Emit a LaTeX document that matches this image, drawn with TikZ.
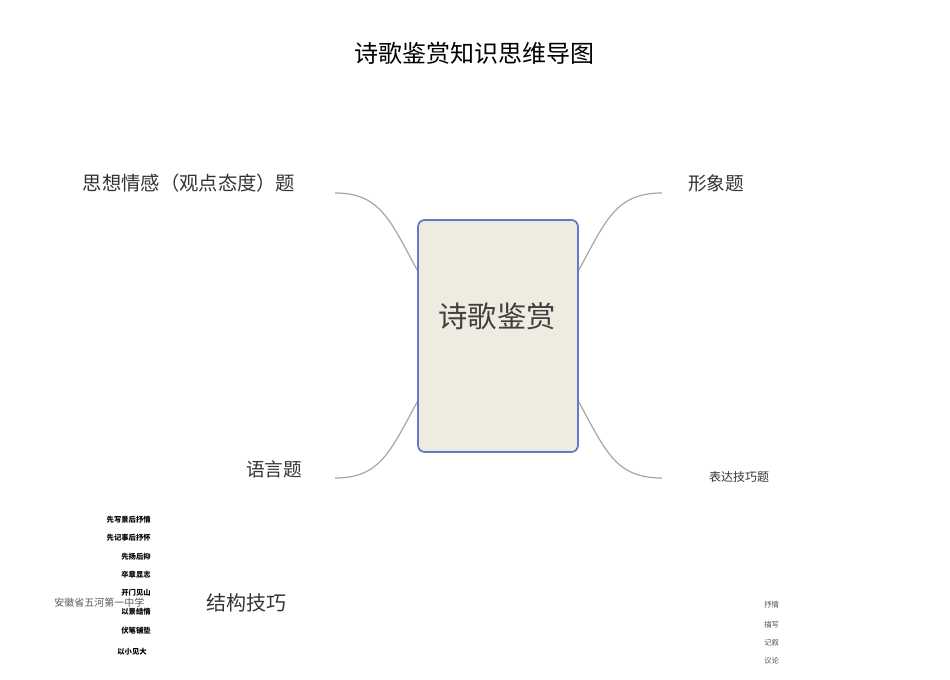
\documentclass[tikz,border=0pt]{standalone}
\usepackage{fontspec}
\newfontfamily\cjk{Noto Sans CJK SC}
\begin{document}
\begin{tikzpicture}[x=0.75pt,y=-0.75pt,font=\cjk,
  curve/.style={draw=gray!70,line width=0.9pt},
  sm/.style={font=\cjk\bfseries\fontsize{5.5}{6}\selectfont,anchor=east,inner sep=0},
  smr/.style={font=\cjk\fontsize{5.5}{6}\selectfont,text=black!70,anchor=west,inner sep=0}]
\useasboundingbox (0,0) rectangle (950,680);
\node (title) at (474,53) {\fontsize{18}{20}\selectfont 诗歌鉴赏知识思维导图};
\node[draw={rgb,255:red,100;green,120;blue,205},line width=1.3pt,fill={rgb,255:red,238;green,235;blue,225},
  rounded corners=5pt,minimum width=120pt,minimum height=174pt] (c) at (498,336) {};
\node (ct) at (497,316) {\fontsize{22}{24}\selectfont\color{black!75}诗歌鉴赏};
\coordinate (tl) at (335,193); \coordinate (tr) at (662,193);
\coordinate (bl) at (335,478); \coordinate (br) at (662,478);
\draw[curve] (c.west|-0,270) .. controls (390,220) and (380,193) .. (tl);
\draw[curve] (c.east|-0,270) .. controls (606,220) and (616,193) .. (tr);
\draw[curve] (c.west|-0,402) .. controls (390,452) and (380,478) .. (bl);
\draw[curve] (c.east|-0,402) .. controls (606,452) and (616,478) .. (br);
\node (a) at (189,183) {\fontsize{14.5}{16}\selectfont\color{black!80}思想情感（观点态度）题};
\node (b) at (716,183) {\fontsize{14}{16}\selectfont\color{black!80}形象题};
\node (d) at (274,469) {\fontsize{14}{16}\selectfont\color{black!80}语言题};
\node (e) at (739,477) {\fontsize{9}{10}\selectfont\color{black!80}表达技巧题};
\node (f) at (246,603) {\fontsize{15}{17}\selectfont\color{black!80}结构技巧};
\node[sm] (s1) at (151,520) {先写景后抒情};
\node[sm] (s2) at (151,538) {先记事后抒怀};
\node[sm] (s3) at (151,557) {先扬后抑};
\node[sm] (s4) at (151,575) {卒章显志};
\node[sm] (s5) at (151,593) {开门见山};
\node[sm] (s6) at (151,612) {以景结情};
\node[sm] (s7) at (151,631) {伏笔铺垫};
\node[sm] (s8) at (147,652) {以小见大};
\node[anchor=west,inner sep=0] (w) at (54,603) {\fontsize{7.5}{8}\selectfont\color{black!65}安徽省五河第一中学};
\node[smr] (r1) at (764,605) {抒情};
\node[smr] (r2) at (764,625) {描写};
\node[smr] (r3) at (764,643) {记叙};
\node[smr] (r4) at (764,661) {议论};
\end{tikzpicture}
\end{document}
